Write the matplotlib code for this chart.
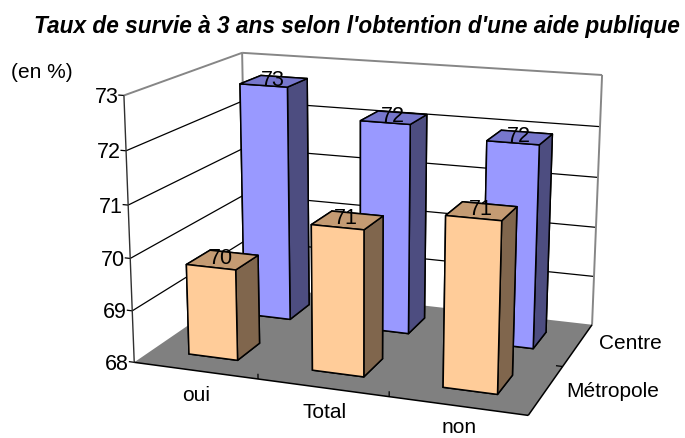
import numpy as np
import matplotlib
matplotlib.use("Agg")
import matplotlib.pyplot as plt
from matplotlib.text import Text
from mpl_toolkits.mplot3d import proj3d
from mpl_toolkits.mplot3d.art3d import Poly3DCollection

categories = ["oui", "Total", "non"]
series = ["Métropole", "Centre"]
metropole = [69.75, 70.75, 71.15]
centre = [72.7, 72.15, 71.95]
metropole_labels = ["70", "71", "71"]
centre_labels = ["73", "72", "72"]
z_ticks = [68, 69, 70, 71, 72, 73]
title = "Taux de survie à 3 ans selon l'obtention d'une aide publique"
unit = "(en %)"

W, H = 685, 439
plt.rcParams['font.family'] = ['Liberation Sans', 'DejaVu Sans']
fig = plt.figure(figsize=(W/100, H/100), dpi=100)
ax = fig.add_subplot(projection='3d', computed_zorder=False)
ax.set_axis_off()
ax.set_xlim(0, 3); ax.set_ylim(0, 2); ax.set_zlim(z_ticks[0], z_ticks[-1])
ax.set_proj_type('persp', focal_length=0.551)
ax.view_init(elev=15.007, azim=-70.142, roll=-0.128)
ax.set_box_aspect((1.484, 1, 0.992))
# placement of the projected scene in the figure
S, TX, TY = 2889.83, 371.41, 217.66
xl, xh = ax.viewLim.intervalx
yl, yh = ax.viewLim.intervaly
ax.set_position([(TX + xl*S)/W, (H - TY + yl*S)/H, (xh-xl)*S/W, (yh-yl)*S/H])

LOW, TOP = z_ticks[0], z_ticks[-1]
FRAME = '#868686'

floor = Poly3DCollection([[(0,0,LOW),(3,0,LOW),(3,2,LOW),(0,2,LOW)]], facecolor='#808080',
                         edgecolor='none', zorder=1, clip_on=False)
ax.add_collection3d(floor)

def seg(a, b, color='k', lw=0.9, z=2):
    ax.plot([a[0],b[0]],[a[1],b[1]],[a[2],b[2]], color=color, lw=lw, zorder=z, clip_on=False,
            solid_capstyle='butt')

def label3d(x, y, z, s, **kw):
    # text anchored at the projected position of a point of the 3D scene
    u, v, _ = proj3d.proj_transform(x, y, z, ax.get_proj())
    ax.text2D(u, v, s, transform=ax.transData, zorder=9, clip_on=False, **kw)

for t in z_ticks[1:-1]:
    seg((0,0,t),(0,2,t)); seg((0,2,t),(3,2,t))
for t in z_ticks:
    seg((-0.045,0,t),(0,0,t))
    label3d(-0.045,0,t-0.03,str(t),ha='right',va='center',fontsize=15.5)
seg((0,0,TOP),(0,2,TOP),FRAME,1.4); seg((0,2,TOP),(3,2,TOP),FRAME,1.4)
seg((0,2,LOW),(0,2,TOP),FRAME,1.4); seg((3,2,LOW),(3,2,TOP),FRAME,1.4)
seg((0,0,LOW),(0,0,TOP),'#303030',1.0)
seg((0,0,LOW),(3,0,LOW),'k',1.1); seg((3,0,LOW),(3,2,LOW),'k',1.1)
for i in (1,2):
    seg((i,0,LOW),(i,0,LOW+0.1))
seg((2.95,1,LOW),(3,1,LOW))

BW, BD, X0, Y0 = 0.40, 0.40, 0.30, 0.30
blue = ['#7777CC','#7777CC','#9999FF','#9999FF','#4D4D80','#4D4D80']
orange = ['#C49B73','#C49B73','#FFCC99','#FFCC99','#80664D','#80664D']
def bars(vals, labels, row, cols, zo):
    for i,(val,lab) in enumerate(zip(vals,labels)):
        c = ax.bar3d(i+X0, row+Y0, LOW, BW, BD, val-LOW, color=cols, shade=False,
                     edgecolor='k', linewidth=1.1, zorder=zo)
        c.set_clip_on(False)
        label3d(i+X0+BW/2-0.01, row+Y0+BD/2, val+0.04, lab, ha='center', va='center', fontsize=15.5)
bars(centre, centre_labels, 1, blue, 3)
bars(metropole, metropole_labels, 0, orange, 4)

for t in ax.findobj(Text):
    if not t.get_text():
        t.set_visible(False)

def px(x, y): return x/W, 1-y/H
for name,(x,y) in zip(categories,[(196,396),(325,413),(459,428)]):
    fig.text(*px(x,y),name,ha='center',va='center',fontsize=15)
for name,(x,y) in zip(series,[(613,392),(630,344)]):
    fig.text(*px(x,y),name,ha='center',va='center',fontsize=15)
fig.text(*px(42,72),unit,ha='center',va='center',fontsize=15)
fig.text(*px(357,27),title,ha='center',va='center',fontsize=16.3,fontweight='bold',fontstyle='italic')
fig.savefig("out.png",dpi=100)
